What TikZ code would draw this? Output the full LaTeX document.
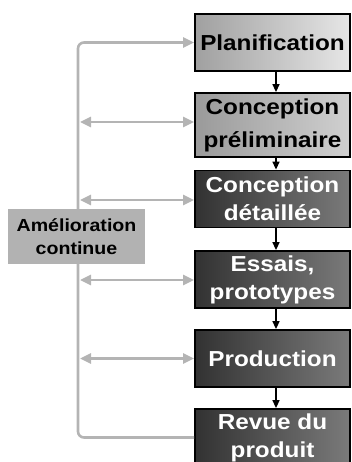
\documentclass[tikz,border=0pt]{standalone}
\usepackage{fontspec}
\setmainfont{Liberation Sans}[FakeStretch=1.12]
\usetikzlibrary{arrows.meta}

\definecolor{loopgray}{HTML}{B4B4B4}
\definecolor{notegray}{HTML}{B2B2B2}
\definecolor{lightL}{HTML}{A0A0A0}
\definecolor{lightR}{HTML}{E6E6E6}
\definecolor{midL}{HTML}{9A9A9A}
\definecolor{midR}{HTML}{D0D0D0}
\definecolor{darkL}{HTML}{323232}
\definecolor{darkR}{HTML}{7A7A7A}

\begin{document}
\begin{tikzpicture}[x=1pt,y=-1pt,
  stagebox/.style={draw=black, line width=1.8pt, minimum width=155pt,
    minimum height=57pt, inner sep=0pt, align=center,
    font=\fontsize{21.7}{28}\selectfont\bfseries},
  lightstage/.style={stagebox, left color=lightL, right color=lightR, text=black},
  midstage/.style={stagebox, left color=midL, right color=midR, text=black},
  darkstage/.style={stagebox, left color=darkL, right color=darkR, text=white},
  flow/.style={-{Triangle[length=8pt,width=7pt]}, line width=1.4pt, draw=black},
  loopline/.style={draw=loopgray, line width=2.6pt},
  looptip/.style={loopline, -{Triangle[length=11pt,width=10pt]}},
  loopboth/.style={loopline, {Triangle[length=11pt,width=10pt]}-{Triangle[length=11pt,width=10pt]}},
  notebox/.style={fill=notegray, minimum width=137pt, minimum height=55pt,
    inner sep=0pt, align=center, font=\fontsize{17.5}{23}\selectfont\bfseries}]

\useasboundingbox (0,0) rectangle (351,462);
\clip (0,0) rectangle (351,462);

% process stages
\node[lightstage] (b1) at (272.5,42.5) {Planification};
\node[midstage, minimum height=64pt] (b2) at (272.5,125) {Conception\\[5pt]préliminaire};
\node[darkstage] (b3) at (272.5,199) {Conception\\détaillée};
\node[darkstage] (b4) at (272.5,279.5) {Essais,\\prototypes};
\node[darkstage] (b5) at (272.5,358.5) {Production};
\node[darkstage] (b6) at (272.5,437.5) {Revue du\\produit};

% flow between stages
\foreach \a/\b in {b1/b2,b2/b3,b3/b4,b4/b5,b5/b6}
  \draw[flow] ([xshift=3.5pt]\a.south) -- ([xshift=3.5pt]\b.north);

% continuous improvement loop
\coordinate (lb) at (78,437.5);
\coordinate (lt) at (78,42.5);
\draw[looptip, rounded corners=6pt] (b6.west) -- (lb) -- (lt) -- (b1.west);

\coordinate (s2) at (80,122);
\coordinate (s3) at (80,200);
\coordinate (s4) at (80,280);
\coordinate (s5) at (80,358.5);
\draw[loopboth] (s2) -- (s2 -| b2.west);
\draw[loopboth] (s3) -- (s3 -| b3.west);
\draw[loopboth] (s4) -- (s4 -| b4.west);
\draw[loopboth] (s5) -- (s5 -| b5.west);

\node[notebox] (ac) at (76.5,236.5) {Amélioration\\continue};

\end{tikzpicture}
\end{document}
